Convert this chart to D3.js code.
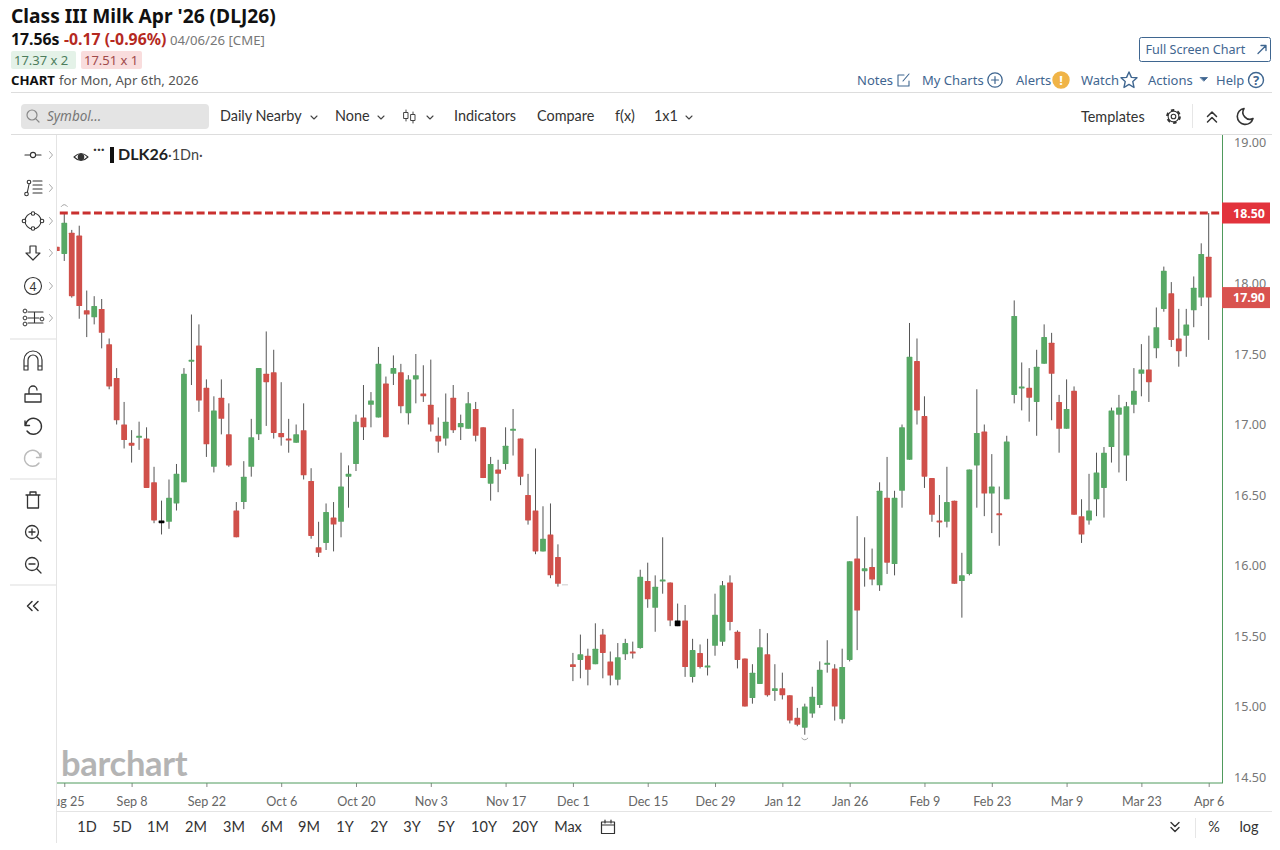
<!DOCTYPE html>
<html>
<head>
<meta charset="utf-8">
<title>Class III Milk Apr '26 (DLJ26)</title>
<script src="https://cdn.jsdelivr.net/npm/d3@7"></script>
<style>
html, body { margin: 0; padding: 0; background: #fff; }
svg { display: block; }
</style>
</head>
<body>
<div id="chart"></div>
<script>
// Daily candles, left to right. The first one is cut off by the plot edge, null = no trade that day
var opens = [18.26,
  18.21,18.36,18.34,17.81,17.76,17.82,17.57,17.33,17.00,16.87,
  16.91,16.90,16.59,16.32,16.31,16.44,16.59,17.45,17.56,17.26,
  16.70,17.19,16.93,16.39,16.45,16.70,16.93,17.36,17.37,16.94,
  16.90,16.87,16.96,16.60,16.13,16.16,16.34,16.31,16.63,16.72,
  17.05,17.14,17.05,17.29,17.36,17.37,17.08,17.32,17.22,17.14,
  16.92,16.90,17.19,16.98,16.97,17.11,16.98,16.58,16.68,16.72,
  16.96,16.90,16.50,16.39,16.10,16.22,16.06,null,15.30,15.33,
  15.36,15.30,15.51,15.32,15.19,15.37,15.39,15.415,15.89,15.70,
  15.89,15.88,15.61,15.61,15.21,15.38,15.28,15.43,15.46,15.88,
  15.53,15.34,15.06,15.16,15.37,15.11,15.13,15.08,14.92,14.85,
  14.95,15.01,15.30,15.27,14.91,15.33,16.05,15.96,15.99,15.86,
  16.48,16.01,16.53,16.75,17.45,17.06,16.62,16.32,16.31,16.46,
  15.89,15.94,16.71,16.95,16.51,16.37,16.47,17.21,17.26,17.26,
  17.16,17.43,17.58,17.16,16.97,17.24,16.35,16.32,16.47,16.55,
  16.84,17.07,16.78,17.14,17.36,17.39,17.54,17.82,17.93,17.61,
  17.63,17.81,17.90,18.19];

var highs = [18.26,
  18.50,18.38,18.41,17.95,17.91,17.89,17.61,17.40,17.16,16.96,
  17.02,16.98,16.70,16.46,16.61,16.72,17.40,17.78,17.71,17.32,
  17.20,17.32,17.15,16.45,16.74,17.04,17.40,17.66,17.53,17.30,
  17.04,17.00,17.15,16.69,16.31,16.44,16.45,16.80,16.71,17.07,
  17.28,17.23,17.55,17.34,17.49,17.43,17.35,17.50,17.42,17.46,
  17.05,17.22,17.28,17.07,17.23,17.16,16.98,16.77,16.75,16.98,
  17.11,16.90,16.65,16.83,16.42,16.44,16.15,null,15.38,15.51,
  15.41,15.59,15.55,15.39,15.45,15.48,15.46,15.97,16.02,15.93,
  16.20,15.88,15.73,15.72,15.48,15.44,15.48,15.80,15.89,15.93,
  15.54,15.34,15.30,15.55,15.52,15.30,15.24,15.08,14.99,15.02,
  15.14,15.32,15.47,15.30,15.41,16.03,16.35,16.20,16.12,16.59,
  16.77,16.53,17.00,17.72,17.61,17.20,16.62,16.50,16.70,16.46,
  16.09,16.68,17.25,17.00,16.79,16.56,16.92,17.88,17.44,17.40,
  17.53,17.71,17.65,17.21,17.32,17.27,16.47,16.65,16.80,16.84,
  17.12,17.21,17.16,17.40,17.57,17.63,17.83,18.12,18.01,17.82,
  17.82,18.05,18.285,18.50];

var lows = [18.23,
  18.16,17.90,17.75,17.62,17.71,17.54,17.25,17.00,16.83,16.73,
  16.82,16.55,16.30,16.22,16.26,16.39,16.59,17.28,17.09,16.77,
  16.66,16.93,16.70,16.20,16.40,16.63,16.89,16.99,16.90,16.85,
  16.80,16.87,16.61,16.19,16.06,16.11,16.10,16.20,16.41,16.67,
  16.89,16.98,17.05,16.91,17.28,17.08,17.00,17.15,17.16,16.95,
  16.80,16.85,16.94,16.89,16.97,16.88,16.62,16.46,16.52,16.68,
  16.78,16.57,16.29,16.08,16.10,15.91,15.85,null,15.18,15.20,
  15.15,15.30,15.20,15.15,15.15,15.33,15.34,15.41,15.70,15.53,
  15.80,15.57,15.57,15.21,15.17,15.27,15.22,15.36,15.43,15.54,
  15.27,15.00,15.02,15.16,15.07,15.04,15.05,14.88,14.86,14.80,
  14.92,14.99,15.24,14.90,14.88,15.32,15.40,15.85,15.86,15.82,
  15.94,15.93,16.41,16.75,17.00,16.55,16.31,16.20,16.27,15.87,
  15.63,15.93,16.41,16.35,16.23,16.14,16.47,17.15,17.10,17.02,
  16.92,17.43,17.03,16.80,16.97,16.36,16.16,16.29,16.35,16.34,
  16.73,16.66,16.60,17.08,17.20,17.16,17.47,17.80,17.55,17.41,
  17.48,17.69,17.84,17.60];

var closes = [18.23,
  18.43,17.91,17.84,17.78,17.84,17.65,17.27,17.03,16.89,16.85,
  16.92,16.55,16.32,16.30,16.48,16.65,17.36,17.46,17.17,16.86,
  17.10,17.04,16.71,16.20,16.63,16.91,17.40,17.30,16.94,16.91,
  16.89,16.93,16.64,16.21,16.09,16.38,16.29,16.56,16.65,17.02,
  16.98,17.17,17.43,16.91,17.40,17.13,17.32,17.35,17.20,17.00,
  16.88,17.02,16.96,17.01,17.15,16.92,16.62,16.72,16.65,16.85,
  16.97,16.63,16.32,16.10,16.19,15.93,15.87,null,15.28,15.37,
  15.26,15.41,15.38,15.22,15.35,15.45,15.38,15.92,15.76,15.85,
  15.90,15.61,15.57,15.28,15.40,15.28,15.29,15.65,15.86,15.60,
  15.33,15.00,15.24,15.42,15.08,15.13,15.08,14.90,14.87,15.00,
  15.07,15.26,15.31,15.00,15.28,16.03,15.68,15.98,15.90,16.53,
  16.02,16.48,16.98,17.48,17.10,16.63,16.36,16.31,16.45,15.87,
  15.93,16.68,16.94,16.51,16.56,16.36,16.88,17.77,17.27,17.19,
  17.41,17.62,17.36,16.97,17.11,16.36,16.22,16.39,16.66,16.80,
  17.10,17.12,17.13,17.24,17.39,17.30,17.69,18.09,17.60,17.52,
  17.71,17.97,18.21,17.90];

// candles with no change on the day, they are drawn black
var flatBars = [14, 83];

var priceTicks = [14.5, 15, 15.5, 16, 16.5, 17, 17.5, 18, 18.5, 19];
var dateTickBars = [1, 10, 20, 30, 40, 50, 60, 69, 79, 88, 97, 106, 116, 125, 135, 145, 154];
var dateTickLabels = ["Aug 25", "Sep 8", "Sep 22", "Oct 6", "Oct 20", "Nov 3", "Nov 17", "Dec 1", "Dec 15",
  "Dec 29", "Jan 12", "Jan 26", "Feb 9", "Feb 23", "Mar 9", "Mar 23", "Apr 6"];

var highPrice = 18.50;   // dashed line
var lastPrice = 17.90;   // lower tag on the axis
var highMarkBar = 1, lowMarkBar = 100;

var rangeLabels = ["1D","5D","1M","2M","3M","6M","9M","1Y","2Y","3Y","5Y","10Y","20Y","Max"];
var rangeCenters = [87,122,158,196,234,272,309,345,379,412,446,484,525,568];

var svg = d3.select("#chart").append("svg").attr("width", 1280).attr("height", 850);
var sansFont = "'Noto Sans', 'Open Sans', sans-serif";
var toolFont = "Lato, sans-serif";
var linkBlue = "#3f6690";
var upColor = "#57a865", downColor = "#d0504a", wickColor = "#555";

// Scales: the bar index and the price run on the plot box
var plotLeft = 57, plotRight = 1222, plotTop = 135, plotBottom = 783;
var x = d3.scaleLinear().domain([0, 154]).range([56.8, 1208.7]);
var y = d3.scaleLinear().domain([14.5, 19]).range([777, 142.5]);

function addText(str, px, py, size, color, opts) {
    opts = opts || {};
    return svg.append("text")
        .attr("x", px).attr("y", py)
        .attr("font-family", opts.font || sansFont)
        .attr("font-size", size)
        .attr("font-weight", opts.weight || 400)
        .attr("font-style", opts.style || null)
        .attr("text-anchor", opts.anchor || "start")
        .attr("fill", color)
        .text(str);
}

function hLine(x1, x2, py, color) {
    svg.append("line").attr("x1", x1).attr("x2", x2).attr("y1", py).attr("y2", py).attr("stroke", color);
}

function vLine(px, y1, y2, color, width) {
    svg.append("line").attr("x1", px).attr("x2", px).attr("y1", y1).attr("y2", y2)
        .attr("stroke", color).attr("stroke-width", width || 1);
}

// Icons are small paths placed at a center point
function icon(px, py, d, color, width, fill) {
    return svg.append("path")
        .attr("transform", "translate(" + px + "," + py + ")")
        .attr("d", d)
        .attr("fill", fill || "none")
        .attr("stroke", color)
        .attr("stroke-width", width || 1.4)
        .attr("stroke-linecap", "round")
        .attr("stroke-linejoin", "round");
}

function circleAt(px, py, r, color, width, fill) {
    return svg.append("circle").attr("cx", px).attr("cy", py).attr("r", r)
        .attr("fill", fill || "none").attr("stroke", color).attr("stroke-width", width || 1.4);
}

function chevronDown(px, py) {
    icon(px, py, "M-3,-1.5 L0,1.5 L3,-1.5", "#444", 1.1);
}

// ---- Page header ----
addText("Class III Milk Apr '26 (DLJ26)", 11, 23, 19.2, "#111", {weight: 700});
addText("17.56s", 11, 45, 15.8, "#111", {weight: 700});
addText("-0.17 (-0.96%)", 64, 45, 15.8, "#b5291f", {weight: 700});
addText("04/06/26 [CME]", 170, 45, 13.2, "#777");

svg.append("rect").attr("x", 11).attr("y", 51).attr("width", 65).attr("height", 18).attr("rx", 2).attr("fill", "#e4f2e8");
addText("17.37 x 2", 14, 65, 13, "#4d7d5c");
svg.append("rect").attr("x", 81).attr("y", 51).attr("width", 61).attr("height", 18).attr("rx", 2).attr("fill", "#f9dddd");
addText("17.51 x 1", 84, 65, 13, "#a04a4a");

addText("CHART", 11, 85, 13.2, "#111", {weight: 700});
addText("for Mon, Apr 6th, 2026", 59, 85, 13.2, "#555");
hLine(11, 1272, 92.5, "#ddd");

svg.append("rect").attr("x", 1139.5).attr("y", 37.5).attr("width", 131).attr("height", 24).attr("rx", 2)
    .attr("fill", "#fff").attr("stroke", linkBlue);
addText("Full Screen Chart", 1145.5, 54, 12.6, linkBlue);
icon(1262, 49.5, "M-4,4 L4,-4 M-1,-4 L4,-4 L4,1", linkBlue, 1.3);

addText("Notes", 857, 85, 13, linkBlue);
icon(904, 80, "M5,1 V6 H-6 V-5 H0 M-1,1 L5,-6", linkBlue, 1.1);
addText("My Charts", 922, 85, 13, linkBlue);
circleAt(995, 80, 7.2, linkBlue, 1.3);
icon(995, 80, "M-3.5,0 H3.5 M0,-3.5 V3.5", linkBlue, 1.2);
addText("Alerts", 1016, 85, 13, linkBlue);
circleAt(1061, 80, 8, "#f0b447", 0, "#f0b447");
addText("!", 1061, 85, 13, "#fff", {weight: 700, anchor: "middle"});
addText("Watch", 1081, 85, 13, linkBlue);
icon(1129, 80, "M0,-8 L2.4,-2.6 L8,-2.2 L3.8,1.6 L5,7.5 L0,4.4 L-5,7.5 L-3.8,1.6 L-8,-2.2 L-2.4,-2.6 Z", linkBlue, 1.4);
addText("Actions", 1148, 85, 13, linkBlue);
icon(1204, 79, "M-3.5,-1.5 H3.5 L0,2 Z", linkBlue, 0.8, linkBlue);
addText("Help", 1216, 85, 13, linkBlue);
circleAt(1256, 80, 7.5, linkBlue, 1.4);
addText("?", 1256, 85, 13, linkBlue, {weight: 700, anchor: "middle"});

// ---- Toolbar ----
svg.append("rect").attr("x", 21).attr("y", 104).attr("width", 188).attr("height", 25).attr("rx", 4).attr("fill", "#e4e4e4");
circleAt(32, 115, 5, "#888", 1.2);
icon(32, 115, "M3.6,3.6 L7,7", "#888", 1.2);
addText("Symbol...", 47, 121, 13.5, "#777", {style: "italic"});

addText("Daily Nearby", 220, 121, 14.4, "#333", {font: toolFont});
chevronDown(314, 117.5);
addText("None", 335, 121, 14.4, "#333", {font: toolFont});
chevronDown(381, 117.5);
icon(406, 116, "M0,-6 V-3.5 M0,2.5 V5 M-2,-3.5 H2 V2.5 H-2 Z", "#444", 1);
icon(413, 117, "M0,-5 V-2.5 M0,3.5 V6 M-2,-2.5 H2 V3.5 H-2 Z", "#444", 1);
chevronDown(430, 117.5);
addText("Indicators", 454, 121, 14.4, "#333", {font: toolFont});
addText("Compare", 537, 121, 14.4, "#333", {font: toolFont});
addText("f(x)", 615, 121, 14.4, "#333", {font: toolFont});
addText("1x1", 654, 121, 14.4, "#333", {font: toolFont});
chevronDown(689, 117.5);

addText("Templates", 1081, 122, 14.4, "#333", {font: toolFont});
// gear: a ring with a dashed outer ring for the teeth
circleAt(1173.5, 116.5, 2.3, "#333", 1.1);
circleAt(1173.5, 116.5, 5.4, "#333", 1.1);
circleAt(1173.5, 116.5, 6.4, "#333", 2).attr("stroke-dasharray", "3.4,3.3");
vLine(1192.5, 104, 128, "#e6e6e6");
icon(1212, 116.5, "M-4.5,0 L0,-4.5 L4.5,0 M-4.5,5.5 L0,1 L4.5,5.5", "#333", 1.5);
icon(1245, 116.5, "M-1,-8 A8,8 0 1 0 8,2 A7,7 0 0 1 -1,-8 Z", "#333", 1.6);
hLine(11, 1272, 134.5, "#ddd");

// ---- Left drawing tools ----
vLine(56.5, 135, 843, "#e4e4e4");
[339, 479, 585].forEach(function(sepY) { hLine(10, 56, sepY, "#ddd"); });
[155, 188, 221, 253, 286, 318].forEach(function(arrowY) {
    icon(51, arrowY, "M-1.5,-3.5 L1.5,0 L-1.5,3.5", "#aaa", 1);
});

icon(33, 155, "M-8,0 H-3 M3,0 H8", "#333", 1.2);
circleAt(33, 155, 2.6, "#333", 1.1);

icon(33, 188, "M-6,6 L-3.5,-6 M0,-7 H9 M0,-3 H9 M0,1 H9 M0,5 H9", "#333", 1.1);
circleAt(26.5, 194, 1.8, "#333", 1.1, "#fff");
circleAt(29, 182, 1.8, "#333", 1.1, "#fff");

circleAt(33, 221, 8, "#333", 1.1);
[[-9, 0], [9, 0], [0, -7.5], [0, 7.5]].forEach(function(p) {
    circleAt(33 + p[0], 221 + p[1], 1.8, "#333", 1.1, "#fff");
});

icon(33, 253, "M-3,-7 H3 V0 H7 L0,7 L-7,0 H-3 Z", "#333", 1.2);

circleAt(33, 286, 8.5, "#333", 1.1);
addText("4", 33, 290.5, 12, "#333", {anchor: "middle"});

icon(33, 318, "M-5,-6 H10 M-5,5 H10 M-5,0 H6 M1.5,-6 V5", "#333", 1.1);
[[-8, -7], [-8, 0], [-8, 6], [9, 1]].forEach(function(p) {
    circleAt(33 + p[0], 318 + p[1], 1.9, "#333", 1, "#fff");
});

icon(33, 361, "M-9,9 V-1 A9,9 0 0 1 9,-1 V9 H5 V-1 A5,5 0 0 0 -5,-1 V9 Z M-9,5 H-5 M5,5 H9", "#333", 1.2);
icon(33, 394, "M-8,0 H8 V8 H-8 Z M-4,0 V-4 A4,4 0 0 1 4,-4", "#333", 1.3);
icon(33, 426, "M-8,-5 V-0.5 H-3.5 M-7.5,-0.5 A8,8 0 1 1 -6,5", "#333", 1.4);
icon(33, 458, "M8,-5 V-0.5 H3.5 M7.5,-0.5 A8,8 0 1 0 6,5", "#bbb", 1.4);
icon(33, 500, "M-7,-5 H7 M-3,-5 V-8 H3 V-5 M-5.5,-5 V8 H5.5 V-5", "#333", 1.3);
circleAt(32, 532, 6.5, "#333", 1.3);
icon(32, 532, "M-3,0 H3 M0,-3 V3 M5,5 L9,9", "#333", 1.3);
circleAt(32, 564, 6.5, "#333", 1.3);
icon(32, 564, "M-3,0 H3 M5,5 L9,9", "#333", 1.3);
icon(33, 606, "M-1,-4.5 L-5.5,0 L-1,4.5 M5,-4.5 L0.5,0 L5,4.5", "#333", 1.5);

// ---- Plot ----
var clip = svg.append("defs").append("clipPath").attr("id", "plotClip");
clip.append("rect").attr("x", plotLeft).attr("y", plotTop)
    .attr("width", plotRight - plotLeft).attr("height", plotBottom - plotTop);

var plot = svg.append("g").attr("clip-path", "url(#plotClip)");

addText("barchart", 61, 776, 34.5, "#b4b4b4", {font: "Lato, sans-serif", weight: 700}).attr("letter-spacing", -0.3);

var bars = d3.range(opens.length).filter(function(i) { return opens[i] !== null; });

function barColor(i) {
    if (flatBars.indexOf(i) != -1) return "#000";
    return closes[i] >= opens[i] ? upColor : downColor;
}

plot.selectAll(".wick").data(bars).enter().append("line")
    .attr("class", "wick")
    .attr("x1", function(i) { return x(i); })
    .attr("x2", function(i) { return x(i); })
    .attr("y1", function(i) { return y(highs[i]); })
    .attr("y2", function(i) { return y(lows[i]); })
    .attr("stroke", wickColor)
    .attr("stroke-width", 1);

var candleWidth = 5.8;
plot.selectAll(".candle").data(bars).enter().append("rect")
    .attr("class", "candle")
    .attr("x", function(i) { return x(i) - candleWidth / 2; })
    .attr("y", function(i) { return y(Math.max(opens[i], closes[i])); })
    .attr("width", candleWidth)
    .attr("height", function(i) { return Math.max(2, Math.abs(y(opens[i]) - y(closes[i]))); })
    .attr("rx", 0.6)
    .attr("fill", barColor);

// small marks at the highest and lowest bar, and the dash next to the gap
icon(x(highMarkBar), y(highs[highMarkBar]) - 8, "M-3,1.5 Q0,-2.5 3,1.5", "#999", 0.9);
icon(x(lowMarkBar), y(lows[lowMarkBar]) + 4.5, "M-3,-1 Q0,2.5 3,-1", "#999", 0.9);
hLine(x(67) + 4, x(67) + 10, y(closes[67]) + 1, "#ccc");

// dashed high line
svg.append("line")
    .attr("x1", x(0) + 3).attr("x2", plotRight)
    .attr("y1", y(highPrice)).attr("y2", y(highPrice))
    .attr("stroke", "#c9302f")
    .attr("stroke-width", 3)
    .attr("stroke-dasharray", "8,3.4");

// ---- Axes ----
var xAxis = d3.axisBottom(x)
    .tickValues(dateTickBars)
    .tickSize(4)
    .tickPadding(10)
    .tickFormat(function(d, i) { return dateTickLabels[i]; });

var xAxisG = svg.append("g")
    .attr("transform", "translate(0," + plotBottom + ")")
    .attr("clip-path", "url(#axisClip)")
    .call(xAxis);
xAxisG.select(".domain").remove();
xAxisG.selectAll("line").attr("stroke", "#888");
xAxisG.selectAll("text").attr("font-family", toolFont).attr("font-size", 12.6).attr("fill", "#666");

svg.select("defs").append("clipPath").attr("id", "axisClip")
    .append("rect").attr("x", plotLeft).attr("y", 0).attr("width", 1223).attr("height", 28);

var yAxis = d3.axisRight(y)
    .tickValues(priceTicks)
    .tickSize(0)
    .tickPadding(12)
    .tickFormat(d3.format(".2f"));

var yAxisG = svg.append("g")
    .attr("transform", "translate(" + plotRight + ",0)")
    .call(yAxis);
yAxisG.select(".domain").remove();
yAxisG.selectAll("text").attr("font-family", sansFont).attr("font-size", 12.6).attr("fill", "#777");

// green frame on the right and the bottom of the plot
vLine(plotRight + 0.5, plotTop, plotBottom, "#4f9a5c");
hLine(plotLeft, plotRight + 1, plotBottom, "#4f9a5c");

// price tags
function priceTag(price, color) {
    svg.append("rect").attr("x", plotRight).attr("y", y(price) - 10.5)
        .attr("width", 48).attr("height", 21).attr("fill", color);
    addText(d3.format(".2f")(price), plotRight + 27, y(price) + 4.5, 12.4, "#fff", {weight: 700, anchor: "middle"});
}
priceTag(highPrice, "#e2333c");
priceTag(lastPrice, "#d9534f");

// ---- Legend in the plot ----
icon(81, 157, "M-7,0 Q0,-7 7,0 Q0,7 -7,0 Z", "#333", 1.1);
circleAt(81, 157, 2.6, "#333", 0, "#333");
addText("\u00b7\u00b7\u00b7", 93, 155, 14, "#333", {weight: 700});
svg.append("rect").attr("x", 110).attr("y", 147).attr("width", 4).attr("height", 16).attr("fill", "#111");
addText("DLK26", 118, 160, 16, "#222", {font: toolFont, weight: 700});
addText("\u00b71Dn\u00b7", 168, 160, 14.4, "#444", {font: toolFont});

// ---- Bottom range bar ----
hLine(57, 1272, 811.5, "#e4e4e4");

svg.selectAll(".range").data(rangeLabels).enter().append("text")
    .attr("class", "range")
    .attr("x", function(d, i) { return rangeCenters[i]; })
    .attr("y", 832)
    .attr("text-anchor", "middle")
    .attr("font-family", toolFont)
    .attr("font-size", 14.5)
    .attr("fill", "#333")
    .text(function(d) { return d; });

icon(608, 827, "M-6.5,-5 H6.5 V6.5 H-6.5 Z M-6.5,-2 H6.5 M-3,-7 V-4 M3,-7 V-4", "#333", 1.2);
icon(1175, 827, "M-4,-4.5 L0,-0.5 L4,-4.5 M-4,0.5 L0,4.5 L4,0.5", "#333", 1.4);
vLine(1195.5, 818, 838, "#e6e6e6");
addText("%", 1214, 832, 14.5, "#333", {font: toolFont, anchor: "middle"});
addText("log", 1249, 832, 14.5, "#333", {font: toolFont, anchor: "middle"});
</script>
</body>
</html>
